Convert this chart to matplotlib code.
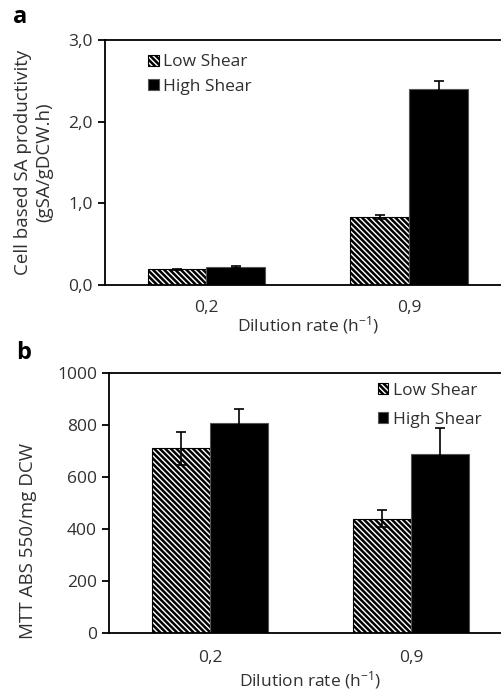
import matplotlib
matplotlib.use("Agg")
import matplotlib.pyplot as plt
import numpy as np
from matplotlib.ticker import FuncFormatter

plt.rcParams['font.family'] = ['Open Sans', 'DejaVu Sans']
plt.rcParams['hatch.linewidth'] = 1.8
plt.rcParams['mathtext.fontset'] = 'custom'
plt.rcParams['mathtext.rm'] = 'Open Sans'
plt.rcParams['mathtext.default'] = 'rm'

categories = ["0,2", "0,9"]
series = ["Low Shear", "High Shear"]

# Panel a: cell based SA productivity
a_low = [0.19, 0.83]
a_low_err = [0.005, 0.025]
a_high = [0.22, 2.40]
a_high_err = [0.01, 0.10]

# Panel b: MTT ABS 550/mg DCW
b_low = [710, 440]
b_low_err = [65, 32]
b_high = [808, 688]
b_high_err = [55, 100]

TEXT = '#303030'
W, H = 502, 690
fig = plt.figure(figsize=(W / 100, H / 100), dpi=100)

def axes_px(left, top, right, bottom):
    return fig.add_axes([left / W, 1 - bottom / H, (right - left) / W, (bottom - top) / H])

ax_a = axes_px(105, 40, 510.5, 285)
ax_b = axes_px(109.5, 373, 511.5, 633)

bw = 0.29
x = np.arange(len(categories))
FS = 12.5

def draw(ax, low, low_err, high, high_err, ylim, yticks, fmt, ylabel, ylabel_fs,
         legend_anchor, label_xy, xlabel_y, ticklabel_pad, labelspacing):
    ax.bar(x - bw / 2, low, bw, color='white', edgecolor='black', linewidth=0.8,
           hatch='\\\\\\\\\\\\', label=series[0], zorder=2)
    ax.bar(x + bw / 2, high, bw, color='black', edgecolor='#555555', linewidth=0.8,
           label=series[1], zorder=2)
    ax.errorbar(x - bw / 2, low, yerr=low_err, fmt='none', ecolor='black',
                elinewidth=1.2, capsize=3.5, capthick=1.2, zorder=3)
    ax.errorbar(x + bw / 2, high, yerr=high_err, fmt='none', ecolor='black',
                elinewidth=1.2, capsize=3.5, capthick=1.2, zorder=3)
    ax.set_xlim(-0.5, 1.5)
    ax.set_ylim(*ylim)
    ax.set_yticks(yticks)
    ax.yaxis.set_major_formatter(FuncFormatter(fmt))
    ax.set_xticks(x)
    ax.set_xticklabels(categories)
    ax.tick_params(axis='x', length=0, pad=ticklabel_pad, labelsize=FS, labelcolor=TEXT)
    ax.tick_params(axis='y', direction='out', length=5, width=1.3, labelsize=FS,
                   labelcolor=TEXT, pad=4)
    for s in ['left', 'bottom', 'top']:
        ax.spines[s].set_linewidth(1.3)
        ax.spines[s].set_color('black')
    ax.spines['right'].set_visible(False)
    ax.set_ylabel(ylabel, fontsize=ylabel_fs, color=TEXT, linespacing=1.25,
                  va='center', ha='center')
    ax.yaxis.set_label_coords(*label_xy)
    ax.set_xlabel("Dilution rate (h$^{-1}$)", fontsize=FS, color=TEXT, va='center')
    ax.xaxis.set_label_coords(0.5, xlabel_y)
    leg = ax.legend(loc='upper left', bbox_to_anchor=legend_anchor, frameon=False,
                    fontsize=FS, handlelength=0.6, handleheight=0.6,
                    handletextpad=0.25, labelspacing=labelspacing, borderaxespad=0)
    for t in leg.get_texts():
        t.set_color(TEXT)

draw(ax_a, a_low, a_low_err, a_high, a_high_err, (0, 3.0), [0, 1, 2, 3],
     lambda v, p: f"{v:.1f}".replace('.', ','),
     "Cell based SA productivity\n(gSA/gDCW.h)", 13.5, (0.09, 0.97), (-0.176, 0.5), -0.163, 10.5, 0.5)
draw(ax_b, b_low, b_low_err, b_high, b_high_err, (0, 1000), [0, 200, 400, 600, 800, 1000],
     lambda v, p: f"{int(v)}",
     "MTT ABS 550/mg DCW", 13.5, (0.65, 0.99), (-0.203, 0.354), -0.181, 12, 0.75)

fig.text(20 / W, 1 - 17 / H, "a", fontsize=17, fontweight='bold', ha='center', va='center', color='black')
fig.text(24 / W, 1 - 353 / H, "b", fontsize=17, fontweight='bold', ha='center', va='center', color='black')

fig.savefig("out.png", dpi=100)
